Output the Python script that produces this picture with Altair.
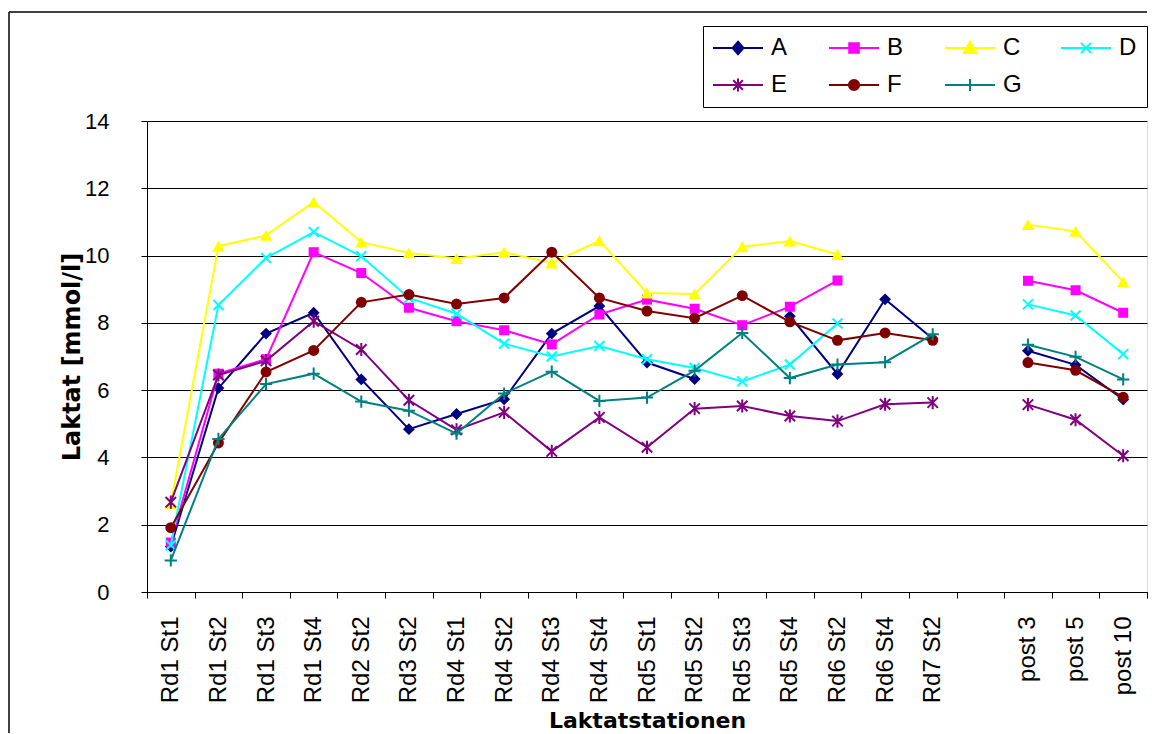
import altair as alt
import pandas as pd

categories = ["Rd1 St1", "Rd1 St2", "Rd1 St3", "Rd1 St4", "Rd2 St2", "Rd3 St2",
              "Rd4 St1", "Rd4 St2", "Rd4 St3", "Rd4 St4", "Rd5 St1", "Rd5 St2",
              "Rd5 St3", "Rd5 St4", "Rd6 St2", "Rd6 St4", "Rd7 St2", "",
              "post 3", "post 5", "post 10"]

series_names = ["A", "B", "C", "D", "E", "F", "G"]

A = [1.35, 6.06, 7.68, 8.30, 6.32, 4.84, 5.29, 5.73, 7.68, 8.50, 6.82, 6.33, None,
     8.20, 6.48, 8.70, 7.53, None, 7.17, 6.75, 5.72]
B = [1.47, 6.49, 6.92, 10.10, 9.48, 8.45, 8.05, 7.78, 7.36, 8.25, 8.69, 8.42, 7.93,
     8.48, 9.26, None, None, None, 9.25, 8.97, 8.30]
C = [2.62, 10.28, 10.60, 11.59, 10.40, 10.08, 9.91, 10.10, 9.78, 10.44, 8.89, 8.86,
     10.26, 10.43, 10.03, None, None, None, 10.92, 10.72, 9.22]
D = [1.39, 8.53, 9.93, 10.70, 9.98, 8.74, 8.27, 7.38, 7.00, 7.31, 6.92, 6.66, 6.26,
     6.76, 7.98, None, None, None, 8.55, 8.22, 7.07]
E = [2.67, 6.45, 6.87, 8.05, 7.21, 5.70, 4.82, 5.34, 4.18, 5.19, 4.30, 5.45, 5.53,
     5.23, 5.08, 5.58, 5.63, None, 5.57, 5.12, 4.05]
F = [1.91, 4.43, 6.54, 7.18, 8.61, 8.84, 8.56, 8.74, 10.10, 8.74, 8.35, 8.14, 8.81,
     8.03, 7.48, 7.70, 7.48, None, 6.82, 6.59, 5.79]
G = [0.94, 4.55, 6.18, 6.49, 5.66, 5.39, 4.71, 5.90, 6.55, 5.68, 5.78, 6.58, 7.70,
     6.36, 6.76, 6.83, 7.66, None, 7.35, 6.99, 6.32]

values = {"A": A, "B": B, "C": C, "D": D, "E": E, "F": F, "G": G}

# ---- styles ----
colors = {"A": "#000080", "B": "#FF00FF", "C": "#FFFF00", "D": "#00FFFF",
          "E": "#800080", "F": "#800000", "G": "#008080"}
X_PATH = "M-1,-1L1,1M-1,1L1,-1"
STAR_PATH = "M-1,-1L1,1M-1,1L1,-1M0,-1.25L0,1.25"
PLUS_PATH = "M-1,0L1,0M0,-1L0,1"
markers = {
    "A": ("diamond", True, 140),
    "B": ("square", True, 100),
    "C": ("triangle-up", True, 160),
    "D": (X_PATH, False, 100),
    "E": (STAR_PATH, False, 110),
    "F": ("circle", True, 120),
    "G": (PLUS_PATH, False, 150),
}


# legend symbols: a 50 px line with the marker in its middle (unit = 6 px)
def _p(pts):
    return "".join(f"{c}{x + 2.17:.2f},{y:.2f}" for c, x, y in pts)


L = "M-2,0L6.33,0"
legend_paths = [
    L + _p([("M", 0, -1.05), ("L", 0.9, 0), ("L", 0, 1.05), ("L", -0.9, 0)]) + "Z",
    L + _p([("M", -0.8, -0.8), ("L", 0.8, -0.8), ("L", 0.8, 0.8), ("L", -0.8, 0.8)]) + "Z",
    L + _p([("M", 0, -1.05), ("L", 1.05, 0.85), ("L", -1.05, 0.85)]) + "Z",
    L + _p([("M", -0.85, -0.85), ("L", 0.85, 0.85), ("M", -0.85, 0.85), ("L", 0.85, -0.85)]),
    L + _p([("M", -0.8, -0.8), ("L", 0.8, 0.8), ("M", -0.8, 0.8), ("L", 0.8, -0.8),
            ("M", 0, -1.1), ("L", 0, 1.1)]),
    L + "M3.02,0A0.85,0.85,0,1,1,1.32,0A0.85,0.85,0,1,1,3.02,0Z",
    L + _p([("M", 0, -1), ("L", 0, 1)]),
]

# ---- long table with path segments (breaks at missing values) ----
rows = []
for s in series_names:
    seg = 0
    for c, v in zip(categories, values[s]):
        if v is None:
            seg += 1
            continue
        rows.append({"series": s, "cat": c, "val": v, "seg": f"{s}{seg}"})
df = pd.DataFrame(rows)

FONT = "Liberation Sans"
TFONT = "DejaVu Sans"
W, H = 1000, 471

x_enc = alt.X(
    "cat:N",
    scale=alt.Scale(type="band", domain=categories, paddingInner=0, paddingOuter=0),
    bandPosition=0.5,
    axis=alt.Axis(
        title="Laktatstationen", labelAngle=270, tickBand="extent", grid=False,
        domainColor="black", tickColor="black", tickSize=6, labelColor="black",
        labelFont=FONT, labelFontSize=24, labelPadding=18,
        titleFont=TFONT, titleFontSize=22, titleFontWeight="bold", titleColor="black",
        titlePadding=8,
    ),
)
y_enc = alt.Y(
    "val:Q",
    scale=alt.Scale(domain=[0, 14], nice=False, zero=True),
    axis=alt.Axis(
        title="Laktat [mmol/l]", values=list(range(0, 15, 2)), grid=True,
        gridColor="black", gridWidth=1, domainColor="black", tickColor="black",
        tickSize=6, labelColor="black", labelFont=FONT, labelFontSize=22,
        labelPadding=32, titleFont=TFONT, titleFontSize=24, titleFontWeight="bold",
        titleColor="black", titlePadding=0,
    ),
)

base = alt.Chart(df)
layers = []

# outer chart frame edges (decoration): left and top
one = pd.DataFrame({"k": [0]})
frame_left = alt.Chart(one).mark_rule(color="black", strokeWidth=1.5).encode(
    x=alt.value(-138), y=alt.value(-109), y2=alt.value(612))
frame_top = alt.Chart(one).mark_rule(color="black", strokeWidth=1.5).encode(
    x=alt.value(-138), x2=alt.value(W), y=alt.value(-109))
layers += [frame_left, frame_top]

for s in series_names:
    sub = base.transform_filter(alt.datum.series == s)
    line = sub.mark_line(color=colors[s], strokeWidth=2).encode(
        x=x_enc, y=y_enc, detail="seg:N"
    )
    shape, filled, size = markers[s]
    if filled:
        pt = sub.mark_point(shape=shape, filled=True, fill=colors[s], size=size,
                            opacity=1, strokeWidth=0)
    else:
        pt = sub.mark_point(shape=shape, filled=False, stroke=colors[s], size=size,
                            opacity=1, strokeWidth=2)
    layers.append(line)
    layers.append(pt.encode(x=x_enc, y=y_enc))

leg = alt.Legend(
    title=None, orient="none", legendX=556, legendY=-95, columns=4,
    direction="horizontal",
    strokeColor="black", padding=10, labelFont=FONT, labelFontSize=24,
    labelColor="black", symbolSize=144, symbolStrokeWidth=2, symbolOpacity=1,
    columnPadding=35, rowPadding=13, labelOffset=34, gridAlign="all",
    fillColor="white",
)
color_range = [colors[s] for s in series_names]
legend_layer = base.mark_point(filled=True, opacity=0).encode(
    x=x_enc, y=y_enc,
    fill=alt.Fill("series:N", scale=alt.Scale(domain=series_names, range=color_range),
                  legend=leg),
    stroke=alt.Stroke("series:N", scale=alt.Scale(domain=series_names, range=color_range),
                      legend=leg),
    shape=alt.Shape("series:N", scale=alt.Scale(domain=series_names, range=legend_paths),
                    legend=leg),
)
layers.append(legend_layer)

chart = alt.layer(*layers).properties(
    width=W, height=H,
    padding={"left": 0, "top": 3, "right": 0, "bottom": 0},
).configure_view(stroke=None).configure(background="white")

chart.save("out.html", embed_options={"renderer": "svg", "actions": False})
